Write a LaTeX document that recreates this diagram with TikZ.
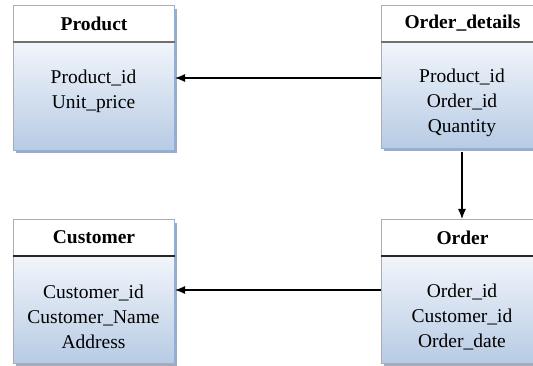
\documentclass[tikz,border=0pt]{standalone}
\usepackage{fontspec}
\setmainfont{Liberation Serif}
\usetikzlibrary{arrows.meta,shadows,calc}
\definecolor{bdr}{HTML}{95B0D6}
\definecolor{btop}{HTML}{F1F5FB}
\definecolor{bbot}{HTML}{B7CBE4}
\definecolor{shd}{HTML}{A3AAB8}
\definecolor{divc}{HTML}{707070}
\tikzset{
  frame/.style={fill=white, anchor=north west, inner sep=0pt,
    drop shadow={shadow xshift=3pt, shadow yshift=-3pt, fill=shd, opacity=1}},
  body/.style={draw=bdr, line width=1pt, top color=btop, bottom color=bbot, anchor=north west, inner sep=0pt},
  head/.style={draw=bdr, line width=1pt, fill=white, anchor=south west, inner sep=0pt,
    font=\fontsize{19.5}{22}\selectfont\bfseries},
  divider/.style={draw=divc, line width=1.8pt},
  rows/.style={align=center, font=\fontsize{19.5}{25}\selectfont, inner sep=0pt},
  link/.style={draw=black, line width=1.2pt, -{Latex[length=10pt,width=8pt]}}
}
\begin{document}
\begin{tikzpicture}[x=1pt,y=1pt]
\useasboundingbox (0,0) rectangle (533,-366);
\clip (0,0) rectangle (533,-366);
% Product
\node[frame, minimum width=161pt, minimum height=144pt] (prodframe) at (13,-6) {};
\node[body, minimum width=161pt, minimum height=108pt] (prodbody) at (13,-42) {};
\node[head, minimum width=161pt, minimum height=36pt] (prodhead) at (prodbody.north west) {Product};
\draw[divider] (prodbody.north west) -- (prodbody.north east);
\node[rows] (prodrows) at (93.5,-91) {Product\_id\\Unit\_price};
% Order_details
\node[frame, minimum width=162pt, minimum height=142pt] (odframe) at (381,-6) {};
\node[body, minimum width=162pt, minimum height=106pt] (odbody) at (381,-42) {};
\node[head, minimum width=162pt, minimum height=36pt] (odhead) at (odbody.north west) {Order\_details};
\draw[divider] (odbody.north west) -- (odbody.north east);
\node[rows] (odrows) at (462,-103) {Product\_id\\Order\_id\\Quantity};
% Customer
\node[frame, minimum width=161pt, minimum height=143pt] (custframe) at (13,-220) {};
\node[body, minimum width=161pt, minimum height=107pt] (custbody) at (13,-256) {};
\node[head, minimum width=161pt, minimum height=36pt] (custhead) at (custbody.north west) {Customer};
\draw[divider, draw=black!85, line width=1.3pt] (custbody.north west) -- (custbody.north east);
\node[rows] (custrows) at (93.5,-317) {Customer\_id\\Customer\_Name\\Address};
% Order
\node[frame, minimum width=162pt, minimum height=143pt] (ordframe) at (381,-220) {};
\node[body, minimum width=162pt, minimum height=107pt] (ordbody) at (381,-256) {};
\node[head, minimum width=162pt, minimum height=36pt] (ordhead) at (ordbody.north west) {Order};
\draw[divider, draw=black!85, line width=1.3pt] (ordbody.north west) -- (ordbody.north east);
\node[rows] (ordrows) at (462,-317) {Order\_id\\Customer\_id\\Order\_date};
% connectors
\coordinate (r1) at (0,-78);
\coordinate (r2) at (0,-290);
\coordinate (vx) at (462,0);
\draw[link] (odbody.west |- r1) -- (prodbody.east |- r1);
\draw[link] (ordbody.west |- r2) -- (custbody.east |- r2);
\draw[link] ($(vx |- odbody.south)+(0,-3)$) -- (vx |- ordhead.north);
\end{tikzpicture}
\end{document}
